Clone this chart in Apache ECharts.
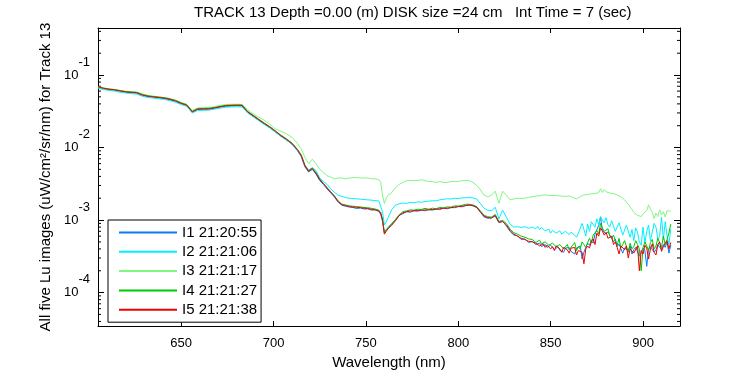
<!DOCTYPE html>
<html><head><meta charset="utf-8">
<script src="https://cdn.jsdelivr.net/npm/echarts@6/dist/echarts.min.js"></script>
<style>html,body{margin:0;padding:0;background:#fff}#c{width:750px;height:375px}</style>
</head><body><div id="c"></div>
<script>
const FONT = 'Liberation Sans, Arial, sans-serif';
const titleText = 'TRACK 13 Depth =0.00 (m) DISK size =24 cm   Int Time = 7 (sec)';
const xName = 'Wavelength (nm)';
const yName = 'All five Lu images (uW/cm\u00B2/sr/nm) for Track 13';
const seriesNames = ['I1 21:20:55','I2 21:21:06','I3 21:21:17','I4 21:21:27','I5 21:21:38'];
const seriesColors = ['#0a7cf0','#00f0ff','#80f880','#00c800','#f00000'];
const xMin = 605, xMax = 920;
const yMin = 3.45e-5, yMax = 0.445;
const minorTicks = [4e-5,5e-5,6e-5,7e-5,8e-5,9e-5,
  2e-4,3e-4,4e-4,5e-4,6e-4,7e-4,8e-4,9e-4,
  2e-3,3e-3,4e-3,5e-3,6e-3,7e-3,8e-3,9e-3,
  2e-2,3e-2,4e-2,5e-2,6e-2,7e-2,8e-2,9e-2,
  2e-1,3e-1,4e-1];

const wavelengths = [
605,608,611,614,617,620,623,626,629,632,635,638,641,644,647,650,653,656,659,662,665,668,671,674,677,680,683,686,689,692,695,698,701,704,707,710,713,
715,717,719,721,723,725,727,729,731,733,735,737,739,741,743,745,747,749,751,753,755,757,
758,759,760,761,762,763,764,
766,768,770,772,774,776,778,780,782,784,786,788,790,792,794,796,798,800,802,804,806,808,810,812,814,816,818,820,822,824,826,828,830,832,834,836,838,840,
841,842,843,844,845,846,847,848,849,850,
851,852,853,854,855,856,857,858,859,860,
861,862,863,864,865,866,867,868,869,870,
871,872,873,874,875,876,877,878,879,880,
881,882,883,884,885,886,887,888,889,890,
891,892,893,894,895,896,897,898,899,900,
901,902,903,904,905,906,907,908,909,910,
911,912,913,914,915];

const I1 = [
.0680,.0650,.0630,.0618,.0598,.0580,.0570,.0562,.0525,.0505,.0494,.0484,.0474,.0456,.0434,.0402,.0380,.0307,.0335,.0336,.0337,.0347,.0360,.0370,.0374,.0376,.0374,.0305,.0270,.0238,.0211,.0188,.0164,.0143,.0127,.0111,.0090,
.0075,.0054,.0046,.0050,.0043,.0035,.0031,.00268,.00236,.00207,.00176,.00160,.00155,.00151,.00149,.00144,.00147,.00142,.00143,.00137,.00139,.00131,
.00120,.00096,.00066,.00068,.00078,.00082,.00088,
.00100,.00117,.00122,.00131,.00128,.00135,.00132,.00138,.00134,.00140,.00137,.00142,.00140,.00146,.00143,.00149,.00148,.00154,.00152,.00159,.00160,.00157,.00148,.00128,.00110,.00106,.00108,.00114,.00092,.00097,.00083,.00070,.00062,.00061,.00054,.00055,.00049,.00051,
4.9e-4,4.6e-4,4.7e-4,4.8e-4,4.3e-4,4.4e-4,4.6e-4,4.2e-4,4.1e-4,4.5e-4,
4.2e-4,3.9e-4,4.1e-4,4.3e-4,3.8e-4,4.0e-4,3.6e-4,4.1e-4,3.9e-4,4.2e-4,
3.7e-4,3.8e-4,3.4e-4,4.1e-4,3.9e-4,4.4e-4,2.9e-4,3.6e-4,4.2e-4,4.8e-4,
4.5e-4,5.2e-4,4.8e-4,6.4e-4,6.8e-4,8.5e-4,1.1e-3,7.2e-4,7.6e-4,6.4e-4,
6.9e-4,6.2e-4,5.6e-4,5.0e-4,5.5e-4,4.3e-4,4.7e-4,4.0e-4,3.5e-4,4.1e-4,
4.3e-4,3.8e-4,4.4e-4,3.4e-4,3.9e-4,4.2e-4,4.3e-4,3.2e-4,3.6e-4,4.1e-4,
3.8e-4,2.3e-4,4.0e-4,4.3e-4,4.5e-4,3.6e-4,3.9e-4,4.6e-4,4.2e-4,3.9e-4,
4.6e-4,4.2e-4,5.0e-4,3.5e-4,4.5e-4];

const I2 = [
.0660,.0630,.0615,.0600,.0580,.0565,.0555,.0545,.0510,.0490,.0480,.0470,.0460,.0442,.0420,.0392,.0370,.0300,.0325,.0326,.0328,.0338,.0350,.0360,.0363,.0365,.0362,.0300,.0265,.0235,.0208,.0186,.0164,.0143,.0127,.0112,.0092,
.0077,.0057,.0049,.0053,.0048,.0038,.0034,.0031,.0027,.0024,.0022,.00212,.00205,.00200,.00198,.00196,.00194,.00192,.00190,.00188,.00186,.00183,
.00172,.00130,.00086,.00095,.00108,.00122,.00140,
.00160,.00168,.00172,.00170,.00175,.00173,.00178,.00176,.00180,.00182,.00185,.00184,.00190,.00193,.00197,.00195,.00200,.00198,.00202,.00203,.00204,.00202,.00195,.00168,.00145,.00136,.00135,.00150,.00104,.00137,.00110,.00088,.00080,.00081,.00079,.00081,.00077,.00080,
8.0e-4,7.6e-4,8.2e-4,7.4e-4,7.9e-4,7.7e-4,7.1e-4,7.2e-4,7.5e-4,6.6e-4,
7.2e-4,7.0e-4,6.6e-4,6.5e-4,7.1e-4,6.4e-4,6.8e-4,7.0e-4,6.6e-4,6.3e-4,
6.8e-4,6.5e-4,6.2e-4,5.8e-4,6.6e-4,6.2e-4,9.0e-4,7.4e-4,6.0e-4,8.8e-4,
7.0e-4,9.5e-4,9.8e-4,8.0e-4,1.04e-3,8.5e-4,1.12e-3,1.0e-3,9.2e-4,1.08e-3,
8.6e-4,8.0e-4,9.8e-4,1.0e-3,7.0e-4,6.6e-4,9.2e-4,9.6e-4,6.2e-4,6.0e-4,
8.5e-4,8.0e-4,5.8e-4,7.4e-4,5.2e-4,7.8e-4,6.8e-4,5.0e-4,4.5e-4,8.0e-4,
4.8e-4,7.0e-4,8.5e-4,5.2e-4,5.0e-4,9.0e-4,8.0e-4,5.5e-4,6.0e-4,1.1e-3,
5.4e-4,9.5e-4,6.0e-4,4.6e-4,7.5e-4];

const I3 = [
.0690,.0660,.0645,.0630,.0612,.0598,.0590,.0582,.0550,.0525,.0512,.0500,.0490,.0475,.0450,.0420,.0395,.0325,.0352,.0355,.0356,.0366,.0380,.0392,.0395,.0396,.0393,.0330,.0290,.0262,.0238,.0210,.0180,.0167,.0155,.0138,.0114,
.0095,.0073,.0060,.0069,.0060,.0050,.0045,.0041,.0039,.0037,.0038,.0038,.0037,.0038,.00385,.00385,.0038,.0038,.0038,.0037,.0037,.0036,
.0033,.0022,.0017,.0020,.0022,.0022,.0024,
.0028,.0031,.0033,.0035,.0035,.0035,.0035,.0036,.0035,.0034,.0034,.0033,.0034,.0033,.0033,.0034,.0034,.0034,.0035,.0035,.0035,.0033,.0030,.0026,.0022,.0021,.0022,.0025,.0017,.0025,.0022,.0019,.00195,.0020,.00198,.0020,.00205,.0021,
2.10e-3,2.14e-3,2.08e-3,2.16e-3,2.12e-3,2.22e-3,2.15e-3,2.20e-3,2.14e-3,2.18e-3,
2.12e-3,2.18e-3,2.22e-3,2.16e-3,2.20e-3,2.14e-3,2.18e-3,2.12e-3,2.20e-3,2.15e-3,
2.10e-3,2.05e-3,2.00e-3,1.96e-3,2.04e-3,2.10e-3,2.16e-3,2.22e-3,2.18e-3,2.25e-3,
2.22e-3,2.30e-3,2.36e-3,2.32e-3,2.45e-3,2.38e-3,2.70e-3,2.40e-3,2.62e-3,2.45e-3,
2.52e-3,2.36e-3,2.42e-3,2.32e-3,2.28e-3,2.22e-3,2.18e-3,2.10e-3,2.00e-3,1.90e-3,
1.76e-3,1.65e-3,1.52e-3,1.40e-3,1.28e-3,1.24e-3,1.16e-3,1.20e-3,1.12e-3,1.22e-3,
1.15e-3,1.35e-3,1.62e-3,1.40e-3,1.28e-3,1.05e-3,1.25e-3,1.12e-3,1.38e-3,1.18e-3,
1.30e-3,1.10e-3,1.35e-3,1.28e-3,1.32e-3];

const I4 = [
.0695,.0662,.0640,.0630,.0610,.0592,.0584,.0576,.0538,.0516,.0505,.0495,.0486,.0468,.0446,.0412,.0390,.0316,.0344,.0346,.0348,.0357,.0370,.0381,.0385,.0388,.0386,.0315,.0279,.0246,.0218,.0194,.0170,.0148,.0132,.0115,.0094,
.0079,.0057,.0048,.0052,.0045,.0037,.0032,.00280,.00245,.00215,.00183,.00166,.00162,.00157,.00155,.00153,.00152,.00149,.00148,.00145,.00142,.00137,
.00127,.00102,.00068,.00074,.00079,.00084,.00090,
.00102,.00118,.00130,.00134,.00138,.00137,.00141,.00140,.00145,.00141,.00146,.00143,.00150,.00147,.00152,.00151,.00157,.00156,.00160,.00165,.00165,.00161,.00153,.00133,.00116,.00111,.00110,.00119,.00096,.00099,.00090,.00075,.00067,.00064,.00060,.00058,.00055,.00054,
5.2e-4,4.9e-4,5.1e-4,5.3e-4,4.7e-4,4.6e-4,5.0e-4,4.8e-4,4.5e-4,4.4e-4,
4.8e-4,4.6e-4,4.3e-4,4.2e-4,4.6e-4,4.4e-4,4.0e-4,4.1e-4,4.6e-4,3.9e-4,
4.2e-4,4.4e-4,4.9e-4,3.8e-4,4.3e-4,4.0e-4,5.0e-4,4.6e-4,4.2e-4,4.4e-4,
5.6e-4,4.9e-4,6.2e-4,6.6e-4,7.2e-4,6.4e-4,9.0e-4,7.8e-4,7.0e-4,6.6e-4,
7.6e-4,6.0e-4,5.6e-4,6.2e-4,5.2e-4,4.5e-4,5.6e-4,4.1e-4,4.6e-4,5.2e-4,
4.9e-4,3.6e-4,4.8e-4,4.0e-4,4.3e-4,5.2e-4,4.6e-4,4.0e-4,2.0e-4,4.2e-4,
5.0e-4,4.4e-4,3.8e-4,4.9e-4,5.4e-4,4.0e-4,4.4e-4,5.6e-4,5.8e-4,4.2e-4,
6.0e-4,4.6e-4,5.4e-4,6.6e-4,8.8e-4];

const I5 = [
.0690,.0655,.0635,.0625,.0605,.0585,.0578,.0570,.0530,.0510,.0500,.0490,.0480,.0462,.0440,.0408,.0385,.0311,.0340,.0341,.0342,.0352,.0365,.0376,.0380,.0382,.0380,.0310,.0275,.0243,.0215,.0192,.0168,.0146,.0130,.0114,.0093,
.0078,.0056,.0047,.0051,.0044,.0036,.0032,.00276,.00242,.00212,.00180,.00163,.00158,.00154,.00151,.00150,.00148,.00146,.00144,.00141,.00138,.00134,
.00125,.00100,.00064,.00070,.00076,.00080,.00085,
.00098,.00115,.00126,.00130,.00133,.00134,.00136,.00136,.00138,.00138,.00140,.00141,.00143,.00145,.00146,.00148,.00151,.00153,.00155,.00158,.00162,.00158,.00150,.00130,.00113,.00108,.00106,.00116,.00093,.00095,.00086,.00072,.00064,.00060,.00056,.00054,.00051,.00050,
5.0e-4,4.8e-4,4.9e-4,4.4e-4,4.6e-4,4.7e-4,4.2e-4,4.5e-4,4.6e-4,4.0e-4,
4.3e-4,3.8e-4,4.4e-4,4.2e-4,4.0e-4,3.6e-4,4.2e-4,4.3e-4,3.9e-4,3.5e-4,
4.1e-4,4.0e-4,4.2e-4,3.3e-4,3.8e-4,4.0e-4,3.6e-4,2.5e-4,4.0e-4,4.4e-4,
4.1e-4,5.0e-4,5.5e-4,4.6e-4,6.6e-4,6.0e-4,7.8e-4,7.0e-4,6.2e-4,6.8e-4,
5.6e-4,5.5e-4,6.0e-4,4.6e-4,5.0e-4,4.2e-4,3.4e-4,4.4e-4,4.6e-4,3.9e-4,
4.4e-4,3.0e-4,4.0e-4,4.2e-4,3.5e-4,3.3e-4,4.4e-4,2.0e-4,3.8e-4,3.4e-4,
4.5e-4,4.1e-4,2.9e-4,4.0e-4,4.7e-4,3.6e-4,3.3e-4,4.6e-4,5.0e-4,3.7e-4,
4.3e-4,4.8e-4,5.2e-4,4.0e-4,4.9e-4];

const allSeries = [I1, I2, I3, I4, I5];

const chart = echarts.init(document.getElementById('c'), null, {renderer: 'canvas'});

function yLabel(v) {
  const e = Math.log10(v);
  const r = Math.round(e);
  if (Math.abs(e - r) > 1e-6) return '';
  return '{b|10}{s|' + r + '}';
}
const yRich = {
  b: {fontSize: 13, fontFamily: FONT, color: '#000', verticalAlign: 'middle'},
  s: {fontSize: 13, fontFamily: FONT, color: '#000', verticalAlign: 'middle', padding: [0, 0, 26, 0]}
};
const commonY = {
  type: 'log', logBase: 10, min: yMin, max: yMax,
  axisLine: {show: true, lineStyle: {color: '#000', width: 1}},
  axisTick: {show: true, inside: true, length: 6, lineStyle: {color: '#000'}},
  splitLine: {show: false}, minorTick: {show: false}
};
const commonX = {
  type: 'value', min: xMin, max: xMax, splitNumber: 6,
  axisLine: {show: true, onZero: false, lineStyle: {color: '#000', width: 1}},
  axisTick: {show: true, inside: true, length: 5, lineStyle: {color: '#000'}},
  splitLine: {show: false}
};

const lineSeries = allSeries.map((arr, k) => ({
  name: seriesNames[k], type: 'line', xAxisIndex: 0, yAxisIndex: 0,
  symbol: 'none', showSymbol: false, animation: false,
  lineStyle: {color: seriesColors[k], width: 1},
  itemStyle: {color: seriesColors[k]},
  data: wavelengths.map((w, i) => [w, arr[i]])
}));

const minorSeries = {
  type: 'custom', xAxisIndex: 0, yAxisIndex: 0, silent: true, clip: false, animation: false,
  data: minorTicks.map(v => [xMin, v]),
  renderItem: function (params, api) {
    const p = api.coord([xMin, api.value(1)]);
    const q = api.coord([xMax, api.value(1)]);
    return {type: 'group', children: [
      {type: 'line', shape: {x1: p[0], y1: p[1], x2: p[0] + 3, y2: p[1]}, style: {stroke: '#000', lineWidth: 1}},
      {type: 'line', shape: {x1: q[0] - 3, y1: q[1], x2: q[0], y2: q[1]}, style: {stroke: '#000', lineWidth: 1}}
    ]};
  }
};

chart.setOption({
  backgroundColor: '#fff',
  animation: false,
  title: {text: titleText, left: 194, top: 5, padding: 0,
    textStyle: {fontSize: 15, fontWeight: 'normal', color: '#000', fontFamily: FONT}},
  grid: {left: 98, right: 70, top: 28, bottom: 44, containLabel: false},
  legend: {
    data: seriesNames.map((n, k) => ({name: n, icon: 'rect', itemStyle: {color: seriesColors[k]}})),
    orient: 'vertical', left: 108, top: 220,
    itemWidth: 58, itemHeight: 2, itemGap: 4.3, padding: [5, 4, 5, 11],
    borderColor: '#000', borderWidth: 1, backgroundColor: '#fff',
    textStyle: {fontSize: 15, lineHeight: 15, color: '#000', fontFamily: FONT},
    selectedMode: false
  },
  xAxis: [
    Object.assign({}, commonX, {position: 'bottom',
      axisLabel: {show: true, color: '#000', fontSize: 13, fontFamily: FONT, margin: 11,
        formatter: v => (v % 50 === 0 ? String(v) : '')},
      name: xName, nameLocation: 'middle', nameGap: 27,
      nameTextStyle: {fontSize: 15, color: '#000', fontFamily: FONT}}),
    Object.assign({}, commonX, {position: 'top', axisLabel: {show: false}})
  ],
  yAxis: [
    Object.assign({}, commonY, {position: 'left',
      axisLabel: {show: true, formatter: yLabel, rich: yRich, margin: 8, align: 'right'},
      name: yName, nameLocation: 'middle', nameGap: 34,
      nameTextStyle: {fontSize: 15, color: '#000', fontFamily: FONT}}),
    Object.assign({}, commonY, {position: 'right', axisLabel: {show: false}})
  ],
  series: lineSeries.concat([minorSeries])
});
</script>
</body></html>
